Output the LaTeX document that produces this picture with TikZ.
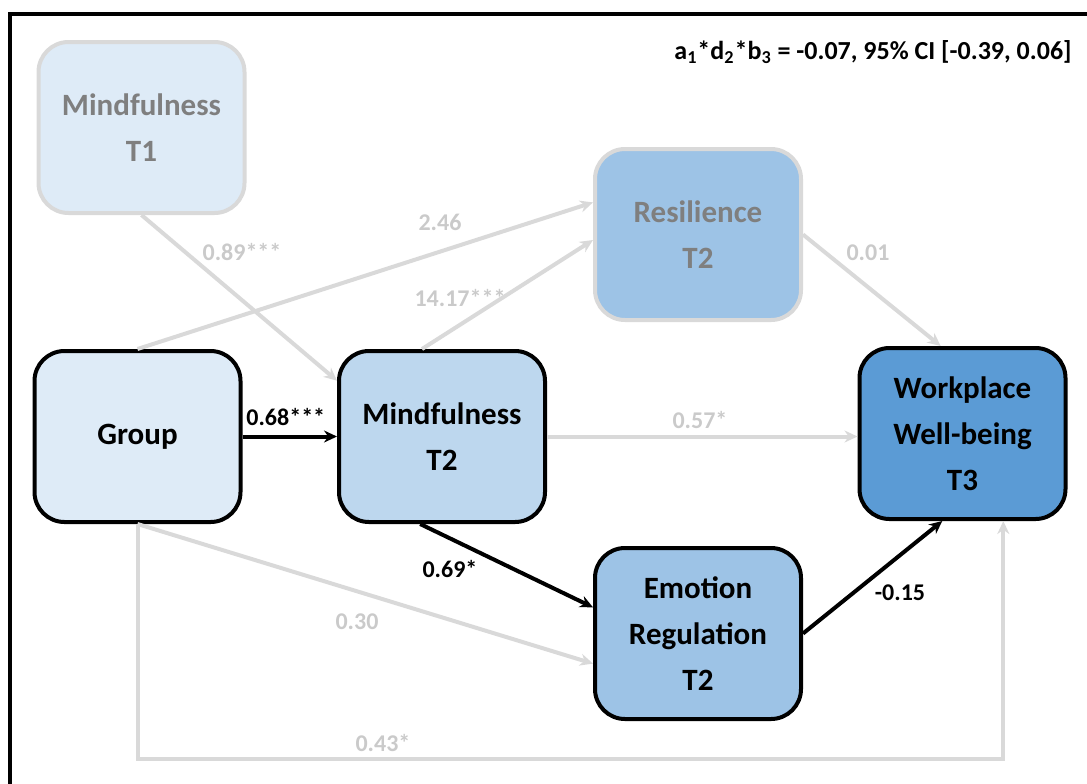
\documentclass[tikz,border=0pt]{standalone}
\usepackage{fontspec}
\setmainfont{Carlito}
\usepackage{tikz}
\usetikzlibrary{arrows.meta, positioning}
\definecolor{boxlight}{RGB}{222,235,247}
\definecolor{boxmid}{RGB}{189,215,238}
\definecolor{boxdeep}{RGB}{157,195,230}
\definecolor{boxdark}{RGB}{91,155,213}
\definecolor{fadeline}{RGB}{217,217,217}
\definecolor{fadetext}{RGB}{127,127,127}
\definecolor{fadecoef}{RGB}{202,202,202}
\tikzset{
  %% ---- boxes ----
  varbox/.style  = {rectangle, rounded corners=15pt,
                    draw=black, line width=2pt,
                    fill=#1, minimum width=103pt, minimum height=85.5pt,
                    align=center, inner sep=2pt,
                    font=\fontsize{15.5}{23}\selectfont\bfseries},
  varbox/.default = boxlight,
  fadebox/.style = {varbox=#1, draw=fadeline, text=fadetext},
  %% ---- arrows ----
  arrow/.style     = {-{Stealth[length=6.5pt, width=6pt]}, line width=2pt, color=black},
  grayarrow/.style = {arrow, color=fadeline},
  %% ---- labels ----
  coef/.style     = {font=\fontsize{12}{14}\selectfont\bfseries, inner sep=1pt},
  graycoef/.style = {coef, text=fadecoef},
}
\begin{document}
\begin{tikzpicture}[x=0.5pt, y=-0.5pt]
  \useasboundingbox (0,0) rectangle (1087,783);

  %% outer frame
  \draw[line width=2pt] (10,14) rectangle (1110,810);

  %% variables
  \node[fadebox=boxlight] (mind1) at (141.5,127.5) {Mindfulness\\T1};
  \node[fadebox=boxdeep]  (resil) at (698,234.5) {Resilience\\T2};
  \node[varbox=boxlight]  (group) at (137.5,436.5) {Group};
  \node[varbox=boxmid]    (mind2) at (442,436.5) {Mindfulness\\T2};
  \node[varbox=boxdeep]   (emoreg) at (698,633.5) {Emotion\\Regulation\\T2};
  \node[varbox=boxdark]   (wellb) at (962.5,433.5) {Workplace\\Well-being\\T3};

  %% indirect effect
  \node[coef, font=\fontsize{13}{15}\selectfont\bfseries, anchor=east] (indeff) at (1074,52)
    {a\textsubscript{1}*d\textsubscript{2}*b\textsubscript{3} = -0.07, 95\% CI [-0.39, 0.06]};

  %% faded paths
  \draw[grayarrow] (mind1.south) -- (mind2.152);
  \draw[grayarrow] (group.north) -- (resil.163);
  \draw[grayarrow] ([xshift=-10pt]mind2.north) -- (resil.183);
  \draw[grayarrow] (resil.east) -- (wellb.104);
  \draw[grayarrow] (mind2.east) -- (mind2.east -| wellb.west);
  \draw[grayarrow] (group.south) -- (emoreg.196);
  \draw[grayarrow] (group.south) -- ++(0,235) -| (wellb.295);

  %% highlighted paths
  \draw[arrow] (group.east) -- (mind2.west);
  \draw[arrow] (mind2.256) -- (emoreg.166);
  \draw[arrow] (emoreg.east) -- (wellb.257);

  %% coefficients
  \node[graycoef] (c089) at (242,252) {0.89***};
  \node[graycoef] (c246) at (440,222) {2.46};
  \node[graycoef] (c1417) at (460,298) {14.17***};
  \node[graycoef] (c001) at (868,253) {0.01};
  \node[graycoef] (c057) at (700,420) {0.57*};
  \node[coef, anchor=south west] (c068) at (244,428) {0.68***};
  \node[coef] (c069) at (450,569) {0.69*};
  \node[graycoef] (c030) at (357,622) {0.30};
  \node[coef] (c015) at (900,593) {-0.15};
  \node[graycoef] (c043) at (383,743) {0.43*};

\end{tikzpicture}
\end{document}
